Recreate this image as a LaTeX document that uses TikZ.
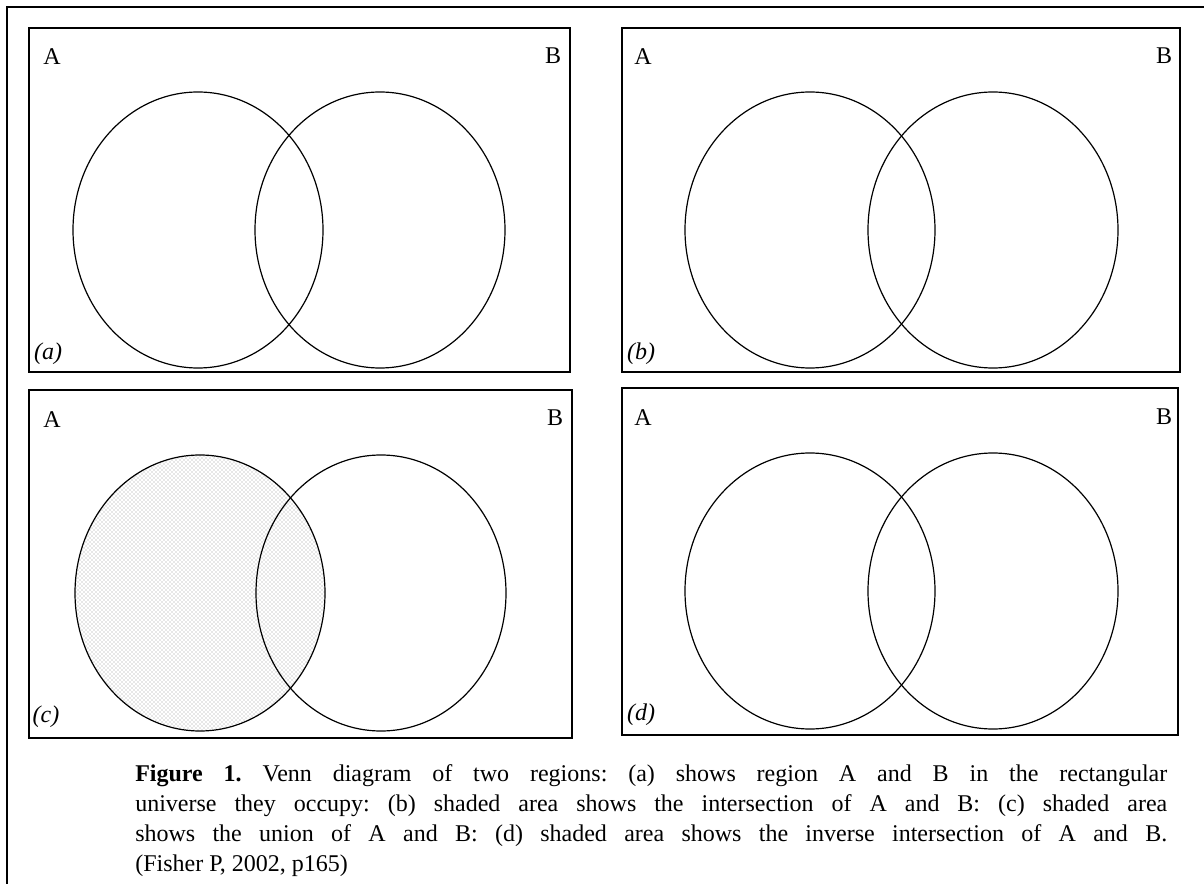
\documentclass[tikz,border=0pt]{standalone}
\usepackage{fontspec}
\setmainfont{Liberation Serif}
\usetikzlibrary{patterns}

\begin{document}
\begin{tikzpicture}[
  x=0.75pt, y=-0.75pt,
  frame/.style={draw, line width=1.1pt},
  universe/.style={draw, line width=1pt},
  region/.style={draw, line width=0.9pt},
  setlabel/.style={font=\fontsize{18}{20}\selectfont, inner sep=0pt},
  panellabel/.style={font=\itshape\fontsize{18}{20}\selectfont, inner sep=0pt},
  dotted area/.style={pattern=crosshatch dots, pattern color=gray!80},
  caption/.style={text width=774pt, align=justify, inner sep=0pt,
    font=\frenchspacing\fontsize{18}{22.5}\selectfont}
]
\useasboundingbox (0,0) rectangle (1204,884);
\draw[frame] (7,884) -- (7,7) -- (1204,7);

% (a)
\draw[universe] (29,28) rectangle (570,372);
\draw[region] (198,230) ellipse [x radius=125, y radius=138];
\draw[region] (380,230) ellipse [x radius=125, y radius=138];
\node[setlabel] (aA) at (52,57) {A};
\node[setlabel] (aB) at (553,56) {B};
\node[panellabel] (alab) at (48,354) {(a)};

% (b)
\draw[universe] (622,28) rectangle (1180,372);
\draw[region] (810,230) ellipse [x radius=125, y radius=138];
\draw[region] (993,230) ellipse [x radius=125, y radius=138];
\node[setlabel] (bA) at (643,57) {A};
\node[setlabel] (bB) at (1164,56) {B};
\node[panellabel] (blab) at (641,354) {(b)};

% (c)
\draw[universe] (29,390) rectangle (572,738);
\fill[dotted area] (200,593) ellipse [x radius=125, y radius=138];
\draw[region] (200,593) ellipse [x radius=125, y radius=138];
\draw[region] (381,593) ellipse [x radius=125, y radius=138];
\node[setlabel] (cA) at (52,420) {A};
\node[setlabel] (cB) at (555,418) {B};
\node[panellabel] (clab) at (46,717) {(c)};

% (d)
\draw[universe] (622,388) rectangle (1178,735);
\draw[region] (810,591) ellipse [x radius=125, y radius=138];
\draw[region] (993,591) ellipse [x radius=125, y radius=138];
\node[setlabel] (dA) at (643,418) {A};
\node[setlabel] (dB) at (1164,417) {B};
\node[panellabel] (dlab) at (641,715) {(d)};

\node[caption, anchor=north west] (cap) at (135,764) {\textbf{Figure 1.} Venn diagram of two regions: (a) shows region A and B in the rectangular\linebreak
universe they occupy: (b) shaded area shows the intersection of A and B: (c) shaded area\linebreak
shows the union of A and B: (d) shaded area shows the inverse intersection of A and B.\linebreak
(Fisher P, 2002, p165)};
\end{tikzpicture}
\end{document}
